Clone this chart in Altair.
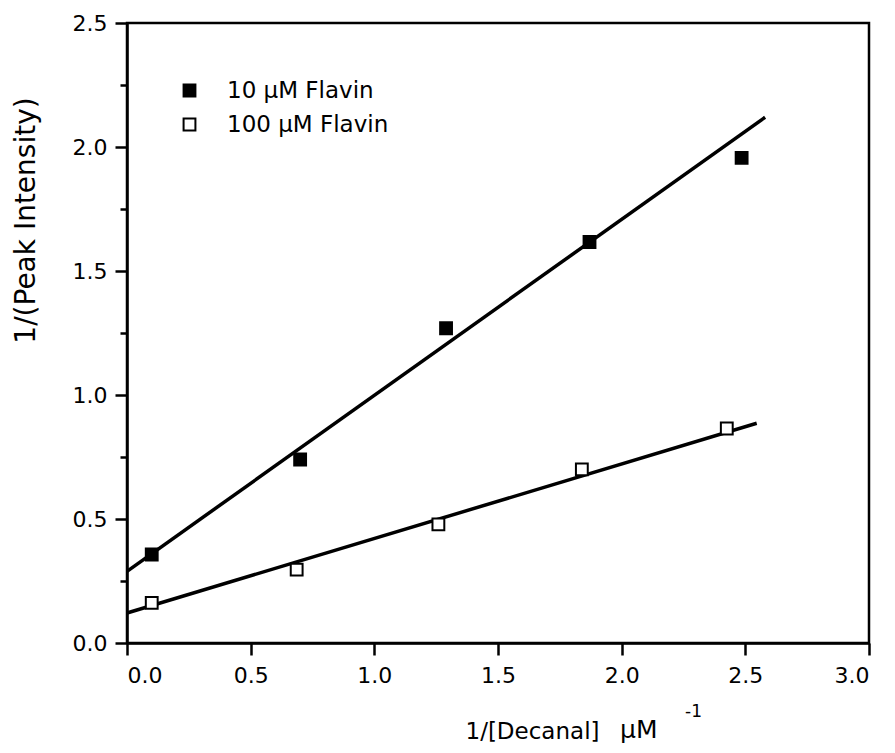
import altair as alt
import pandas as pd

series_labels = ["10 µM Flavin", "100 µM Flavin"]

# 10 µM Flavin (filled squares)
x_10 = [0.10, 0.70, 1.29, 1.87, 2.485]
y_10 = [0.357, 0.74, 1.269, 1.617, 1.956]

# 100 µM Flavin (open squares)
x_100 = [0.10, 0.686, 1.259, 1.839, 2.425]
y_100 = [0.162, 0.296, 0.478, 0.700, 0.865]

# fitted lines (end points)
fit_10_x = [0.0, 2.58]
fit_10_y = [0.289, 2.12]
fit_100_x = [0.0, 2.546]
fit_100_y = [0.121, 0.886]

x_ticks = [0.0, 0.5, 1.0, 1.5, 2.0, 2.5, 3.0]
y_ticks = [0.0, 0.25, 0.5, 0.75, 1.0, 1.25, 1.5, 1.75, 2.0, 2.25, 2.5]

pts = pd.DataFrame({
    "x": x_10 + x_100,
    "y": y_10 + y_100,
    "series": [series_labels[0]] * len(x_10) + [series_labels[1]] * len(x_100),
})
fits = pd.DataFrame({
    "x": fit_10_x + fit_100_x,
    "y": fit_10_y + fit_100_y,
    "series": [series_labels[0]] * 2 + [series_labels[1]] * 2,
})

FONT = "DejaVu Sans"

xscale = alt.Scale(domain=[0, 3], nice=False, zero=False)
yscale = alt.Scale(domain=[0, 2.5], nice=False, zero=False)

xaxis = alt.Axis(
    values=x_ticks, format=".1f", grid=False,
    title="1/[Decanal]",
    titleX=338, titleY=95, titleAlign="left", titleBaseline="alphabetic",
    titleFont=FONT, titleFontSize=23, titleFontWeight="normal", titleColor="black",
    labelFont=FONT, labelFontSize=22, labelColor="black", labelPadding=10,
    tickSize=12, tickWidth=2.5, tickColor="black",
    domainColor="black", domainWidth=2.5, labelOverlap=False,
)
yaxis = alt.Axis(
    values=y_ticks, grid=False,
    labelExpr="round(datum.value*4) % 2 == 0 ? format(datum.value, '.1f') : ''",
    title="1/(Peak Intensity)",
    titleX=-101, titleY=197, titleAlign="center", titleBaseline="middle", titleAngle=270,
    titleFont=FONT, titleFontSize=28, titleFontWeight="normal", titleColor="black",
    labelFont=FONT, labelFontSize=22, labelColor="black", labelPadding=8,
    tickSize={"condition": {"test": "round(datum.value*4) % 2 == 0", "value": 12}, "value": 7},
    tickWidth=2.5, tickColor="black",
    domainColor="black", domainWidth=2.5, labelOverlap=False,
)

lines = alt.Chart(fits).mark_line(color="black", strokeWidth=3.5).encode(
    x=alt.X("x:Q", scale=xscale, axis=xaxis),
    y=alt.Y("y:Q", scale=yscale, axis=yaxis),
    detail="series:N",
)

points = alt.Chart(pts).mark_point(
    shape="square", filled=True, stroke="black", strokeWidth=2, opacity=1, size=140
).encode(
    x=alt.X("x:Q", scale=xscale),
    y=alt.Y("y:Q", scale=yscale),
    fill=alt.Fill(
        "series:N",
        scale=alt.Scale(domain=series_labels, range=["black", "white"]),
        legend=alt.Legend(
            title=None, orient="none", legendX=51, legendY=56,
            symbolType="square", symbolSize=140, symbolStrokeColor="black",
            symbolStrokeWidth=2, symbolOpacity=1,
            labelFont=FONT, labelFontSize=23, labelColor="black", labelLimit=0,
            labelOffset=26, rowPadding=10, padding=0,
        ),
    ),
)

unit = alt.Chart(pd.DataFrame({"t": ["µM"]})).mark_text(
    font=FONT, fontSize=25, align="left", baseline="alphabetic", color="black"
).encode(x=alt.value(493), y=alt.value(715), text="t:N")

sup = alt.Chart(pd.DataFrame({"t": ["-1"]})).mark_text(
    font=FONT, fontSize=17, align="left", baseline="alphabetic", color="black"
).encode(x=alt.value(558), y=alt.value(694), text="t:N")

chart = alt.layer(lines, points, unit, sup).properties(
    width=742, height=620,
    autosize=alt.AutoSizeParams(type="none"),
    padding={"left": 119, "top": 15, "right": 17, "bottom": 102},
).configure_view(stroke="black", strokeWidth=2.5)

chart.save("out.html", embed_options={"renderer": "svg", "actions": False})
